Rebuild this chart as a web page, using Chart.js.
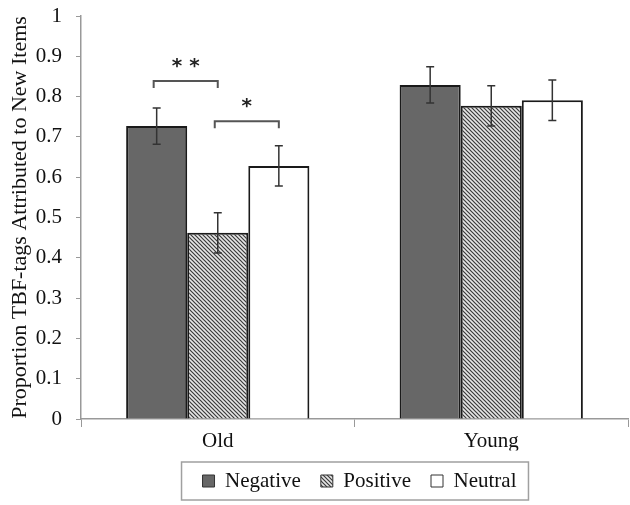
<!DOCTYPE html>
<html>
<head>
<meta charset="utf-8">
<script src="https://cdn.jsdelivr.net/npm/chart.js@4/dist/chart.umd.min.js"></script>
<style>
  html, body { margin: 0; padding: 0; background: #ffffff; }
  #wrap { width: 630px; height: 505px; position: relative; }
</style>
</head>
<body>
<div id="wrap"><canvas id="c" width="630" height="505"></canvas></div>
<script>
// ---- data ----
const categories = ['Old', 'Young'];
const seriesNames = ['Negative', 'Positive', 'Neutral'];
const negativeValues = [0.727, 0.829];
const positiveValues = [0.462, 0.777];
const neutralValues = [0.628, 0.791];
const negativeErrors = [0.045, 0.045];
const positiveErrors = [0.050, 0.050];
const neutralErrors = [0.050, 0.050];
const yTickValues = [0, 0.1, 0.2, 0.3, 0.4, 0.5, 0.6, 0.7, 0.8, 0.9, 1];
const yAxisTitle = 'Proportion TBF-tags Attributed to New Items';
// significance brackets (category index, dataset pair, level, label)
const bracketCategory = [0, 0];
const bracketPairs = [[0, 1], [1, 2]];
const bracketLevels = [0.839, 0.739];
const bracketLabels = ['* *', '*'];

// ---- styles ----
const SERIF = '"Liberation Serif", "Times New Roman", serif';

function makeHatch() {
  const t = document.createElement('canvas');
  t.width = 4; t.height = 4;
  const g = t.getContext('2d');
  g.fillStyle = '#e6e6e6';
  g.fillRect(0, 0, 4, 4);
  g.strokeStyle = '#3a3a3a';
  g.lineWidth = 1.2;
  g.beginPath();
  g.moveTo(-1, -1); g.lineTo(5, 5);
  g.moveTo(-1, 3); g.lineTo(1, 5);
  g.moveTo(3, -1); g.lineTo(5, 1);
  g.stroke();
  return document.getElementById('c').getContext('2d').createPattern(t, 'repeat');
}
const hatch = makeHatch();
const errorArrays = [negativeErrors, positiveErrors, neutralErrors];

const errorBarPlugin = {
  id: 'errorBars',
  afterDatasetsDraw(chart) {
    const ctx = chart.ctx;
    const y = chart.scales.y;
    ctx.save();
    ctx.strokeStyle = '#333333';
    ctx.lineWidth = 1.5;
    chart.data.datasets.forEach((ds, di) => {
      const meta = chart.getDatasetMeta(di);
      meta.data.forEach((bar, i) => {
        const v = ds.data[i];
        const e = errorArrays[di][i];
        const yt = y.getPixelForValue(v + e);
        const yb = y.getPixelForValue(v - e);
        const x = bar.x;
        ctx.beginPath();
        ctx.moveTo(x, yt); ctx.lineTo(x, yb);
        ctx.moveTo(x - 4, yt); ctx.lineTo(x + 4, yt);
        ctx.moveTo(x - 4, yb); ctx.lineTo(x + 4, yb);
        ctx.stroke();
      });
    });
    ctx.restore();
  }
};

const bracketPlugin = {
  id: 'brackets',
  afterDatasetsDraw(chart) {
    const ctx = chart.ctx;
    const y = chart.scales.y;
    ctx.save();
    ctx.strokeStyle = '#555555';
    ctx.lineWidth = 2;
    ctx.fillStyle = '#222222';
    ctx.font = 'bold 20px "DejaVu Sans", sans-serif';
    ctx.textAlign = 'center';
    ctx.textBaseline = 'middle';
    bracketLevels.forEach((lvl, k) => {
      const c = bracketCategory[k];
      const [a, b] = bracketPairs[k];
      const x1 = chart.getDatasetMeta(a).data[c].x - 3;
      const x2 = chart.getDatasetMeta(b).data[c].x;
      const yy = y.getPixelForValue(lvl);
      ctx.beginPath();
      ctx.moveTo(x1, yy + 7);
      ctx.lineTo(x1, yy);
      ctx.lineTo(x2, yy);
      ctx.lineTo(x2, yy + 7);
      ctx.stroke();
      ctx.fillText(bracketLabels[k], (x1 + x2) / 2, yy - 14);
    });
    ctx.restore();
  }
};

// centre the legend under the plot area rather than the whole canvas
const legendShiftPlugin = {
  id: 'legendShift',
  afterLayout(chart) {
    const lg = chart.legend;
    if (!lg) return;
    lg.left = chart.chartArea.left + 5;
    lg.right = chart.chartArea.right + 5;
  }
};

const legendBoxPlugin = {
  id: 'legendBox',
  afterDraw(chart) {
    const lg = chart.legend;
    if (!lg || !lg.legendHitBoxes || !lg.legendHitBoxes.length) return;
    const hb = lg.legendHitBoxes;
    let l = Infinity, r = -Infinity, cy = 0;
    hb.forEach(h => { l = Math.min(l, h.left); r = Math.max(r, h.left + h.width); cy = h.top + h.height / 2; });
    const ctx = chart.ctx;
    ctx.save();
    ctx.strokeStyle = '#a0a0a0';
    ctx.lineWidth = 1.5;
    ctx.strokeRect(l - 21, cy - 19, (r + 12) - (l - 21), 38);
    ctx.restore();
  }
};

new Chart(document.getElementById('c'), {
  type: 'bar',
  data: {
    labels: categories,
    datasets: [
      { label: seriesNames[0], data: negativeValues, backgroundColor: '#676767', borderColor: '#1a1a1a', borderWidth: 2 },
      { label: seriesNames[1], data: positiveValues, backgroundColor: hatch, borderColor: '#1a1a1a', borderWidth: 2 },
      { label: seriesNames[2], data: neutralValues, backgroundColor: '#ffffff', borderColor: '#1a1a1a', borderWidth: 2 }
    ]
  },
  options: {
    responsive: false,
    animation: false,
    devicePixelRatio: 1,
    layout: { padding: { left: 0, right: 2, top: 16, bottom: 3.5 } },
    datasets: { bar: { categoryPercentage: 0.67, barPercentage: 1.0 } },
    scales: {
      x: {
        offset: true,
        grid: { offset: true, drawOnChartArea: false, drawTicks: true, tickLength: 8, color: '#999999', lineWidth: 1 },
        border: { color: '#999999', width: 1.5 },
        ticks: { color: '#111111', font: { family: SERIF, size: 21 }, padding: 2 },
        afterFit(s) { s.height = 31.5; }
      },
      y: {
        min: 0, max: 1,
        afterBuildTicks(s) { s.ticks = yTickValues.map(v => ({ value: v })); },
        grid: { drawOnChartArea: false, drawTicks: true, tickLength: 5, color: '#999999' },
        border: { color: '#999999', width: 1.5 },
        ticks: { color: '#111111', font: { family: SERIF, size: 21 }, padding: 14,
                 callback: v => String(Math.round(v * 10) / 10) },
        title: { display: true, text: yAxisTitle, color: '#111111', font: { family: SERIF, size: 22 }, padding: { top: 7, bottom: 0 } },
        afterFit(s) { s.width = 81; s.paddingTop = 0; s.paddingBottom = 0; }
      }
    },
    plugins: {
      legend: {
        position: 'bottom',
        labels: {
          color: '#111111',
          font: { family: SERIF, size: 21 },
          boxWidth: 12, boxHeight: 12, padding: 20,
          generateLabels(chart) {
            return chart.data.datasets.map((ds, i) => ({
              text: ds.label, fillStyle: ds.backgroundColor, strokeStyle: '#333333',
              lineWidth: 1, hidden: false, datasetIndex: i, fontColor: '#111111'
            }));
          }
        }
      },
      tooltip: { enabled: false }
    }
  },
  plugins: [legendShiftPlugin, errorBarPlugin, bracketPlugin, legendBoxPlugin]
});
</script>
</body>
</html>
